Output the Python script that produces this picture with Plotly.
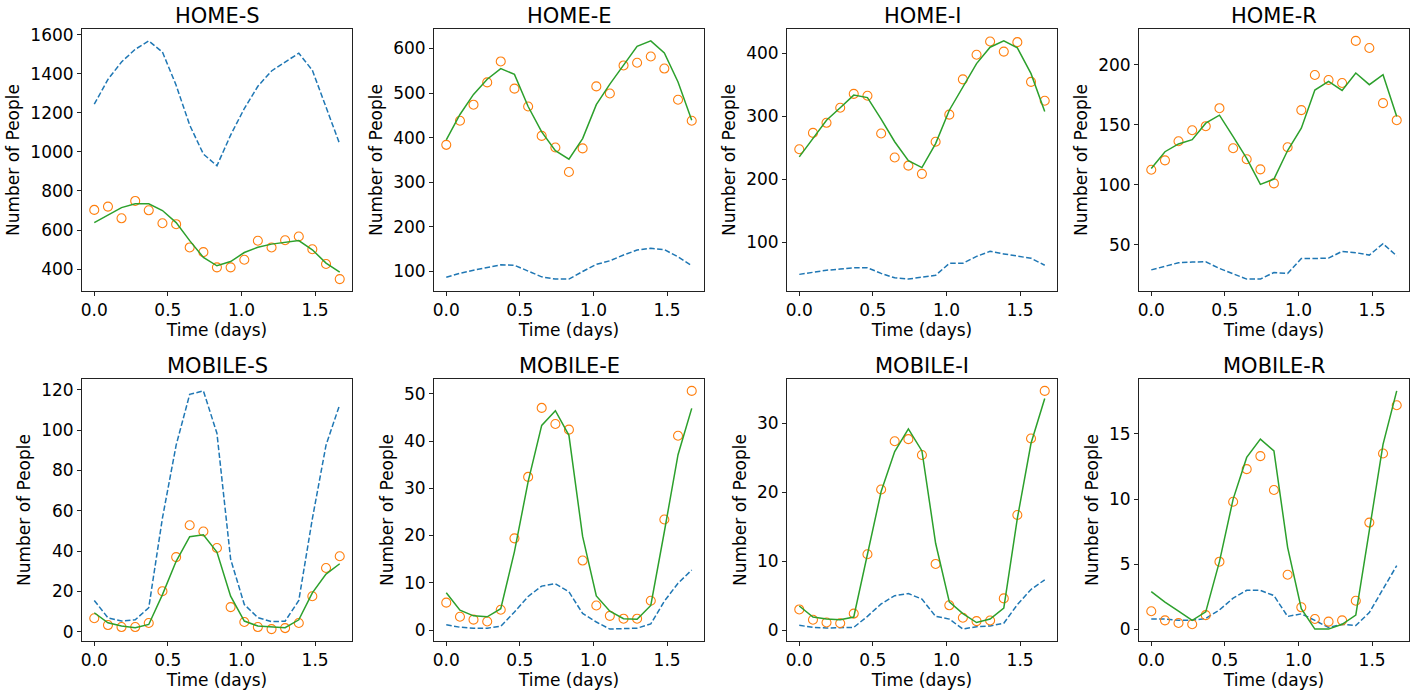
import plotly.graph_objects as go

# ---------------- data ----------------
time_days = [0.0, 0.093, 0.185, 0.278, 0.370, 0.463, 0.556, 0.648, 0.741, 0.833,
             0.926, 1.019, 1.111, 1.204, 1.296, 1.389, 1.481, 1.574, 1.667]

panel_titles = ["HOME-S", "HOME-E", "HOME-I", "HOME-R",
                "MOBILE-S", "MOBILE-E", "MOBILE-I", "MOBILE-R"]

# blue dashed series
home_s_blue = [1244, 1371, 1460, 1525, 1568, 1511, 1341, 1137, 989, 929,
               1086, 1222, 1336, 1414, 1460, 1505, 1418, 1230, 1040]
home_e_blue = [87, 96, 103, 109, 115, 114, 101, 88, 83, 83,
               100, 116, 124, 137, 148, 152, 149, 133, 113]
home_i_blue = [49.5, 53, 56, 58, 60, 60, 51, 44, 42, 45,
               48, 67, 67, 78, 86, 82, 78, 75, 64]
home_r_blue = [28.9, 31.7, 34.8, 35.4, 35.6, 30.1, 25.9, 21.2, 21.2, 26.7,
               25.9, 38.4, 38.4, 38.7, 44.3, 43.2, 41.2, 50.7, 40.6]
mobile_s_blue = [15.5, 6.9, 5.3, 5.9, 11.9, 56.4, 92.5, 117.7, 119.4, 98.4,
                 36.0, 13.5, 7.0, 5.0, 5.2, 15.5, 56.0, 92.5, 112.6]
mobile_e_blue = [1.1, 0.6, 0.4, 0.4, 0.8, 3.8, 7.1, 9.3, 9.8, 8.1,
                 3.5, 1.7, 0.2, 0.3, 0.4, 1.3, 6.1, 9.9, 12.7]
mobile_i_blue = [0.7, 0.4, 0.3, 0.3, 0.4, 2.0, 3.8, 5.0, 5.3, 4.5,
                 2.0, 1.6, 0.15, 0.5, 0.6, 1.0, 3.7, 5.9, 7.3]
mobile_r_blue = [0.8, 0.8, 0.7, 0.7, 0.85, 1.5, 2.4, 3.0, 3.0, 2.6,
                 1.0, 1.2, 0.7, 0.15, 0.4, 0.3, 1.3, 3.1, 4.9]

# orange circle series
home_s_orange = [703, 720, 660, 749, 701, 635, 630, 511, 487, 409,
                 409, 448, 545, 511, 548, 567, 502, 426, 349]
home_e_orange = [384, 438, 474, 524, 571, 510, 470, 404, 378, 323,
                 376, 515, 499, 562, 568, 582, 555, 485, 438]
home_i_orange = [248, 274, 290, 314, 336, 333, 273, 235, 222, 209,
                 260, 303, 359, 398, 419, 403, 418, 355, 325]
home_r_orange = [112.4, 120.2, 136.1, 145.3, 148.7, 163.7, 130.3, 121.1, 112.7, 101.0,
                 131.1, 162.1, 191.4, 187.2, 184.7, 219.8, 213.9, 167.9, 153.7]
mobile_s_orange = [6.7, 3.3, 2.3, 2.3, 4.3, 20.1, 37.0, 52.8, 49.7, 41.5,
                   12.2, 4.8, 2.3, 1.3, 1.8, 4.3, 17.6, 31.6, 37.4]
mobile_e_orange = [5.8, 2.8, 2.2, 1.8, 4.3, 19.4, 32.4, 47.0, 43.6, 42.4,
                   14.7, 5.2, 3.0, 2.4, 2.4, 6.2, 23.4, 41.1, 50.6]
mobile_i_orange = [3.0, 1.5, 1.1, 1.0, 2.4, 11.0, 20.4, 27.4, 27.7, 25.4,
                   9.6, 3.6, 1.8, 1.3, 1.4, 4.6, 16.7, 27.8, 34.7]
mobile_r_orange = [1.4, 0.7, 0.5, 0.4, 1.1, 5.2, 9.8, 12.3, 13.3, 10.7,
                   4.2, 1.7, 0.8, 0.6, 0.7, 2.2, 8.2, 13.5, 17.2]

# green solid series
home_s_green = [638, 677, 715, 734, 734, 700, 638, 546, 460, 417,
                439, 485, 512, 528, 536, 546, 499, 431, 385]
home_e_green = [395, 452, 497, 531, 555, 542, 470, 413, 371, 352,
                398, 474, 520, 563, 605, 617, 590, 525, 439]
home_i_green = [236, 266, 294, 314, 334, 330, 296, 260, 230, 219,
                257, 310, 347, 384, 410, 420, 409, 368, 308]
home_r_green = [113.5, 127.4, 133.9, 137.5, 151.2, 157.9, 140.0, 121.9, 100.2, 104.6,
                128.4, 147.0, 178.8, 186.1, 178.5, 193.0, 183.3, 191.6, 156.8]
mobile_s_green = [9.4, 4.4, 2.8, 2.0, 3.6, 18.4, 34.9, 47.1, 48.1, 39.5,
                  17.6, 5.3, 2.8, 2.5, 2.0, 5.9, 19.3, 28.6, 33.7]
mobile_e_green = [7.9, 4.2, 3.0, 2.8, 4.5, 16.6, 31.4, 43.3, 46.4, 41.2,
                  19.8, 7.2, 4.0, 2.4, 2.3, 5.2, 20.8, 37.1, 46.9]
mobile_i_green = [3.5, 1.9, 1.6, 1.5, 1.9, 10.9, 20.1, 25.9, 29.2, 26.0,
                  12.6, 4.1, 2.4, 1.1, 1.6, 3.2, 16.2, 27.1, 33.6]
mobile_r_green = [2.9, 2.1, 1.4, 0.7, 1.35, 5.2, 10.0, 13.2, 14.6, 13.7,
                  6.3, 1.6, 0.03, 0.03, 0.4, 1.1, 7.6, 14.2, 18.3]

blue_series = [home_s_blue, home_e_blue, home_i_blue, home_r_blue,
               mobile_s_blue, mobile_e_blue, mobile_i_blue, mobile_r_blue]
orange_series = [home_s_orange, home_e_orange, home_i_orange, home_r_orange,
                 mobile_s_orange, mobile_e_orange, mobile_i_orange, mobile_r_orange]
green_series = [home_s_green, home_e_green, home_i_green, home_r_green,
                mobile_s_green, mobile_e_green, mobile_i_green, mobile_r_green]

y_tick_steps = [200, 100, 100, 50, 20, 10, 10, 5]
x_tick_vals = [0.0, 0.5, 1.0, 1.5]
x_tick_text = ["0.0", "0.5", "1.0", "1.5"]

# ---------------- styling / layout ----------------
W, H = 1415, 695
AX_LEFT = [82, 434, 787, 1139]
AX_W = 270
ROW_TOP = [29, 379]
AX_H = 262
FONT = "DejaVu Sans"
TICK_SIZE = 17
LABEL_SIZE = 17
TITLE_SIZE = 21
C_BLUE, C_ORANGE, C_GREEN = "#1f77b4", "#ff7f0e", "#2ca02c"

fig = go.Figure()
layout = dict(
    width=W, height=H,
    margin=dict(l=0, r=0, t=0, b=0),
    paper_bgcolor="white", plot_bgcolor="white",
    showlegend=False,
    font=dict(family=FONT, color="black", size=TICK_SIZE),
    annotations=[],
)

tmin, tmax = min(time_days), max(time_days)
tpad = 0.05 * (tmax - tmin)

for i in range(8):
    row, col = divmod(i, 4)
    sfx = "" if i == 0 else str(i + 1)
    xref, yref = "x" + sfx, "y" + sfx

    fig.add_trace(go.Scatter(x=time_days, y=blue_series[i], mode="lines",
                             line=dict(color=C_BLUE, width=1.5, dash="5.5px,2.4px"),
                             xaxis=xref, yaxis=yref))
    fig.add_trace(go.Scatter(x=time_days, y=orange_series[i], mode="markers",
                             marker=dict(symbol="circle-open", size=9,
                                         color=C_ORANGE, line=dict(width=1.1, color=C_ORANGE)),
                             xaxis=xref, yaxis=yref))
    fig.add_trace(go.Scatter(x=time_days, y=green_series[i], mode="lines",
                             line=dict(color=C_GREEN, width=1.5),
                             xaxis=xref, yaxis=yref))

    allv = blue_series[i] + orange_series[i] + green_series[i]
    vmin, vmax = min(allv), max(allv)
    vpad = 0.05 * (vmax - vmin)

    x0 = AX_LEFT[col] / W
    x1 = (AX_LEFT[col] + AX_W) / W
    y1 = 1 - ROW_TOP[row] / H
    y0 = 1 - (ROW_TOP[row] + AX_H) / H

    common = dict(showline=True, linecolor="#222", linewidth=1, mirror=True,
                  ticks="outside", ticklen=4, tickwidth=1, tickcolor="#222",
                  showgrid=False, zeroline=False,
                  tickfont=dict(family=FONT, size=TICK_SIZE, color="black"),
                  automargin=False)

    layout["xaxis" + sfx] = dict(
        common, domain=[x0, x1], anchor=yref,
        range=[tmin - tpad, tmax + tpad],
        tickmode="array", tickvals=x_tick_vals, ticktext=x_tick_text,
        title=dict(text="Time (days)", standoff=2,
                   font=dict(family=FONT, size=LABEL_SIZE, color="black")),
    )
    layout["yaxis" + sfx] = dict(
        common, domain=[y0, y1], anchor=xref,
        range=[vmin - vpad, vmax + vpad],
        tick0=0, dtick=y_tick_steps[i],
        title=dict(text="Number of People", standoff=6,
                   font=dict(family=FONT, size=LABEL_SIZE, color="black")),
    )
    layout["annotations"].append(dict(
        text=panel_titles[i], xref="paper", yref="paper",
        x=(x0 + x1) / 2, y=y1, xanchor="center", yanchor="bottom",
        yshift=-1, showarrow=False,
        font=dict(family=FONT, size=TITLE_SIZE, color="black"),
    ))

fig.update_layout(**layout)
fig.write_html("out.html",
               config={"displayModeBar": False},
               post_script="document.body.style.margin='0';document.body.style.padding='0';")
